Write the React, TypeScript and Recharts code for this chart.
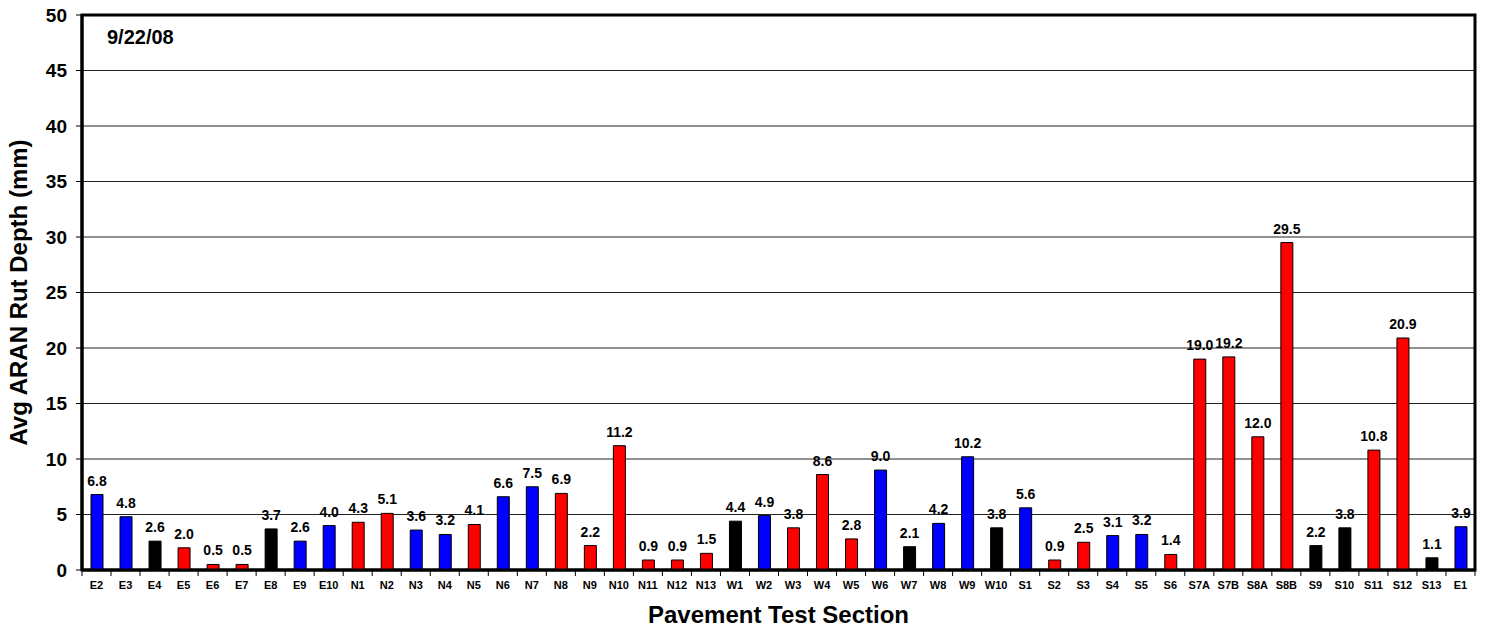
import React from "react";
import { BarChart, Bar, XAxis, YAxis, CartesianGrid, Cell, LabelList, ReferenceArea, Label } from "recharts";

const sections = ["E2","E3","E4","E5","E6","E7","E8","E9","E10","N1","N2","N3","N4","N5","N6","N7","N8","N9","N10","N11","N12","N13","W1","W2","W3","W4","W5","W6","W7","W8","W9","W10","S1","S2","S3","S4","S5","S6","S7A","S7B","S8A","S8B","S9","S10","S11","S12","S13","E1"];
const rutDepth = [6.8,4.8,2.6,2.0,0.5,0.5,3.7,2.6,4.0,4.3,5.1,3.6,3.2,4.1,6.6,7.5,6.9,2.2,11.2,0.9,0.9,1.5,4.4,4.9,3.8,8.6,2.8,9.0,2.1,4.2,10.2,3.8,5.6,0.9,2.5,3.1,3.2,1.4,19.0,19.2,12.0,29.5,2.2,3.8,10.8,20.9,1.1,3.9];
const groups = ["B","B","K","R","R","R","K","B","B","R","R","B","B","R","B","B","R","R","R","R","R","R","K","B","R","R","R","B","K","B","B","K","B","R","R","B","B","R","R","R","R","R","K","K","R","R","K","B"];
const yTicks = [0,5,10,15,20,25,30,35,40,45,50];
const dateLabel = "9/22/08";

const colorMap: Record<string,string> = { B: "#0000FF", K: "#000000", R: "#FF0000" };

const data = sections.map((s, i) => ({ section: s, value: rutDepth[i], group: groups[i] }));

const W = 1486, H = 629;
const M = { top: 15, right: 11, left: 22, bottom: 0 };
const YW = 60;
const XH = 59;
const plotW = W - M.left - M.right - YW;
const band = plotW / sections.length;
const FONT = "'Liberation Sans', Arial, sans-serif";

const XTick = (props: any) => {
  const { x, y, payload, index } = props;
  const axisY = y - 11;
  return (
    <g>
      <line x1={x - band / 2} x2={x - band / 2} y1={axisY} y2={axisY + 6} stroke="#000" strokeWidth={1} />
      {index === sections.length - 1 && (
        <line x1={x + band / 2} x2={x + band / 2} y1={axisY} y2={axisY + 6} stroke="#000" strokeWidth={1} />
      )}
      <text x={x} y={y} dy="0.71em" textAnchor="middle" fontFamily={FONT} fontWeight="bold" fontSize={11} fill="#000">
        {payload.value}
      </text>
    </g>
  );
};

export default function App() {
  return (
    <div style={{ position: "fixed", left: 0, top: 0, width: W, height: H, background: "#fff" }}>
      <BarChart width={W} height={H} data={data} margin={M} barCategoryGap={0}>
        <CartesianGrid vertical={false} stroke="#222" strokeWidth={1} />
        <XAxis
          dataKey="section"
          height={XH}
          interval={0}
          tickLine={false}
          tickSize={6}
          tickMargin={5}
          axisLine={{ stroke: "#000", strokeWidth: 3 }}
          tick={<XTick />}
          label={{
            content: ({ viewBox }: any) => (
              <text x={viewBox.x + viewBox.width / 2} y={614} textAnchor="middle" dominantBaseline="central" fontFamily={FONT} fontWeight="bold" fontSize={24} fill="#000">
                Pavement Test Section
              </text>
            ),
          }}
        />
        <YAxis
          width={YW}
          domain={[0, 50]}
          ticks={yTicks}
          interval={0}
          tickSize={6}
          tickMargin={9}
          tickLine={{ stroke: "#000", strokeWidth: 1 }}
          axisLine={{ stroke: "#000", strokeWidth: 3 }}
          tick={{ fill: "#000", fontSize: 19, fontWeight: "bold", fontFamily: FONT }}
          label={{
            content: ({ viewBox }: any) => (
              <text x={18} y={viewBox.y + viewBox.height / 2} transform={`rotate(-90, 18, ${viewBox.y + viewBox.height / 2})`} textAnchor="middle" dominantBaseline="central" fontFamily={FONT} fontWeight="bold" fontSize={24} fill="#000">
                Avg ARAN Rut Depth (mm)
              </text>
            ),
          }}
        />
        <ReferenceArea y1={0} y2={50} fill="none" fillOpacity={0} stroke="#000" strokeWidth={3} ifOverflow="visible">
          <Label
            content={({ viewBox }: any) => (
              <text x={viewBox.x + 25} y={viewBox.y + 22} dominantBaseline="central" fontFamily={FONT} fontWeight="bold" fontSize={20} fill="#000">
                {dateLabel}
              </text>
            )}
          />
        </ReferenceArea>
        <Bar dataKey="value" barSize={12} stroke="#000" strokeWidth={1} isAnimationActive={false}>
          {data.map((d, i) => (
            <Cell key={i} fill={colorMap[d.group]} />
          ))}
          <LabelList
            dataKey="value"
            position="top"
            offset={9}
            formatter={(v: any) => Number(v).toFixed(1)}
            style={{ fill: "#000", fontSize: 14, fontWeight: "bold", fontFamily: FONT }}
          />
        </Bar>
      </BarChart>
    </div>
  );
}
